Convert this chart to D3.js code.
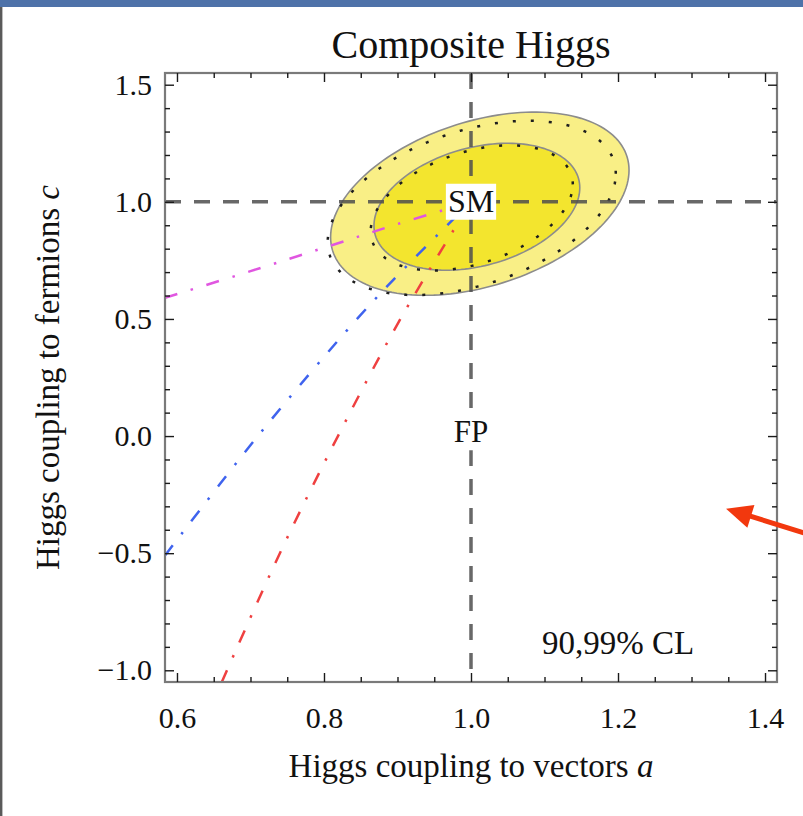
<!DOCTYPE html>
<html>
<head>
<meta charset="utf-8">
<script src="https://cdn.jsdelivr.net/npm/d3@7"></script>
<style>
  html, body { margin: 0; padding: 0; background: #ffffff; }
  svg { display: block; }
</style>
</head>
<body>
<svg id="chart" width="803" height="816"></svg>
<script>
// ---- axis ranges and tick labels ----
const xDomain = [0.5837, 1.4163];
const yDomain = [-1.05, 1.55];
const xTickValues = [0.6, 0.8, 1.0, 1.2, 1.4];
const yTickValues = [-1.0, -0.5, 0.0, 0.5, 1.0, 1.5];
const xMinorTicks = [0.65, 0.7, 0.75, 0.85, 0.9, 0.95, 1.05, 1.1, 1.15, 1.25, 1.3, 1.35];
const yMinorTicks = [-0.9, -0.8, -0.7, -0.6, -0.4, -0.3, -0.2, -0.1, 0.1, 0.2, 0.3, 0.4,
                     0.6, 0.7, 0.8, 0.9, 1.1, 1.2, 1.3, 1.4];

// ---- confidence-level contours (centre, half-extent in a and c, correlation) ----
const contourStyle = ["filled", "filled", "dotted", "dotted"];
const contourLevel = ["99%", "90%", "99%", "90%"];
const contourCenterA = [1.012, 1.008, 1.001, 1.001];
const contourCenterC = [0.992, 0.979, 0.974, 0.974];
const contourHalfA = [0.203, 0.140, 0.196, 0.1375];
const contourHalfC = [0.391, 0.271, 0.372, 0.267];
const contourRho = [0.366, 0.299, 0.393, 0.376];

// ---- model trajectories in the (a, c) plane, ending at the SM point ----
const trajMagentaA = [0.5837, 0.700, 0.804, 0.900, 1.0];
const trajMagentaC = [0.590, 0.704, 0.808, 0.905, 1.0];
const trajBlueA = [0.5837, 0.710, 0.845, 0.920, 1.0];
const trajBlueC = [-0.510, 0.000, 0.500, 0.750, 1.0];
const trajRedA = [0.661, 0.740, 0.819, 0.904, 1.0];
const trajRedC = [-1.05, -0.500, 0.000, 0.500, 1.0];

// ---- reference points ----
const smPoint = [1.0, 1.0];
const fpPoint = [1.0, 0.0];

// ---- layout ----
const W = 803, H = 816;
const plotLeft = 165, plotRight = 777, plotTop = 73, plotBottom = 682;
const serif = "'Liberation Serif', 'Times New Roman', Times, serif";

const svg = d3.select("#chart");

const x = d3.scaleLinear().domain(xDomain).range([plotLeft, plotRight]);
const y = d3.scaleLinear().domain(yDomain).range([plotBottom, plotTop]);

// slide frame decoration
svg.append("rect").attr("x", 0).attr("y", 0).attr("width", W).attr("height", 7)
  .attr("fill", "#4e72a9");
svg.append("line").attr("x1", 1.2).attr("x2", 1.2).attr("y1", 7).attr("y2", H)
  .attr("stroke", "#5a5a5a").attr("stroke-width", 2.4);

svg.append("defs").append("clipPath").attr("id", "plot-clip")
  .append("rect")
  .attr("x", plotLeft).attr("y", plotTop)
  .attr("width", plotRight - plotLeft).attr("height", plotBottom - plotTop);

const plot = svg.append("g").attr("clip-path", "url(#plot-clip)");

// contour outlines from centre, half-extents and correlation
function contourPoints(i) {
  const n = 160, pts = [];
  const r = contourRho[i], s = Math.sqrt(1 - r * r);
  for (let k = 0; k < n; k++) {
    const t = 2 * Math.PI * k / n;
    pts.push([
      contourCenterA[i] + contourHalfA[i] * Math.cos(t),
      contourCenterC[i] + contourHalfC[i] * (r * Math.cos(t) + s * Math.sin(t))
    ]);
  }
  return pts;
}
const closedLine = d3.line().x(d => x(d[0])).y(d => y(d[1])).curve(d3.curveLinearClosed);

const fillColor = { "99%": "#f9ef86", "90%": "#f3e52e" };
contourStyle.forEach((st, i) => {
  if (st !== "filled") return;
  plot.append("path")
    .attr("d", closedLine(contourPoints(i)))
    .attr("fill", fillColor[contourLevel[i]])
    .attr("stroke", "#8c8c8c")
    .attr("stroke-width", 1.6);
});
contourStyle.forEach((st, i) => {
  if (st !== "dotted") return;
  plot.append("path")
    .attr("d", closedLine(contourPoints(i)))
    .attr("fill", "none")
    .attr("stroke", "#1e1e1e")
    .attr("stroke-width", 2.5)
    .attr("stroke-dasharray", "3,15");
});

// dashed reference lines through the SM point
plot.append("line")
  .attr("x1", x(xDomain[0])).attr("x2", x(xDomain[1]))
  .attr("y1", y(smPoint[1])).attr("y2", y(smPoint[1]))
  .attr("stroke", "#4d4d4d").attr("stroke-opacity", 0.85)
  .attr("stroke-width", 3.5).attr("stroke-dasharray", "16,13");
plot.append("line")
  .attr("x1", x(smPoint[0])).attr("x2", x(smPoint[0]))
  .attr("y1", y(yDomain[1])).attr("y2", y(yDomain[0]))
  .attr("stroke", "#4d4d4d").attr("stroke-opacity", 0.85)
  .attr("stroke-width", 3.5).attr("stroke-dasharray", "16,13");

// trajectories
const trajectories = [
  { a: trajMagentaA, c: trajMagentaC, color: "#e056e0" },
  { a: trajBlueA, c: trajBlueC, color: "#3f63ee" },
  { a: trajRedA, c: trajRedC, color: "#ef4040" }
];
const openLine = d3.line().x(d => x(d[0])).y(d => y(d[1])).curve(d3.curveCatmullRom);
trajectories.forEach(tr => {
  plot.append("path")
    .attr("d", openLine(tr.a.map((v, k) => [v, tr.c[k]])))
    .attr("fill", "none")
    .attr("stroke", tr.color)
    .attr("stroke-width", 2.5)
    .attr("stroke-dasharray", "13,14,2.5,14");
});

// boxed point labels
function boxedLabel(txt, px, py, size, dy) {
  const g = svg.append("g");
  const rect = g.append("rect").attr("fill", "#ffffff");
  const t = g.append("text")
    .attr("x", px).attr("y", py).attr("dy", dy)
    .attr("text-anchor", "middle")
    .attr("font-family", serif).attr("font-size", size)
    .attr("fill", "#111111")
    .text(txt);
  const bb = t.node().getBBox();
  rect.attr("x", bb.x - 2).attr("y", bb.y + 1)
    .attr("width", bb.width + 4).attr("height", bb.height);
}
boxedLabel("SM", x(smPoint[0]), y(smPoint[1]), 32, "0.31em");
boxedLabel("FP", x(fpPoint[0]), y(fpPoint[1]), 31, "0.2em");

svg.append("text")
  .attr("x", x(1.2)).attr("y", y(-0.93))
  .attr("text-anchor", "middle")
  .attr("font-family", serif).attr("font-size", 33)
  .attr("fill", "#111111")
  .text("90,99% CL");

// frame
svg.append("rect")
  .attr("x", plotLeft).attr("y", plotTop)
  .attr("width", plotRight - plotLeft).attr("height", plotBottom - plotTop)
  .attr("fill", "none").attr("stroke", "#7a7a7a").attr("stroke-width", 2.2);

// axes: major ticks with labels, minor ticks, mirrored ticks on top/right
const fmt = d3.format(".1f");
function styleAxis(g) {
  g.select(".domain").remove();
  g.selectAll(".tick line").attr("stroke", "#1a1a1a").attr("stroke-width", 1.4);
  g.selectAll(".tick text").attr("font-family", serif).attr("font-size", 30).attr("fill", "#111111");
}
svg.append("g").attr("transform", `translate(0,${plotBottom})`)
  .call(d3.axisBottom(x).tickValues(xTickValues).tickFormat(fmt).tickSizeInner(-9).tickSizeOuter(0).tickPadding(25))
  .call(styleAxis);
svg.append("g").attr("transform", `translate(0,${plotBottom})`)
  .call(d3.axisBottom(x).tickValues(xMinorTicks).tickFormat("").tickSizeInner(-5).tickSizeOuter(0))
  .call(styleAxis);
svg.append("g").attr("transform", `translate(0,${plotTop})`)
  .call(d3.axisTop(x).tickValues(xTickValues).tickFormat("").tickSizeInner(-9).tickSizeOuter(0))
  .call(styleAxis);
svg.append("g").attr("transform", `translate(0,${plotTop})`)
  .call(d3.axisTop(x).tickValues(xMinorTicks).tickFormat("").tickSizeInner(-5).tickSizeOuter(0))
  .call(styleAxis);
svg.append("g").attr("transform", `translate(${plotLeft},0)`)
  .call(d3.axisLeft(y).tickValues(yTickValues).tickFormat(fmt).tickSizeInner(-9).tickSizeOuter(0).tickPadding(13))
  .call(styleAxis);
svg.append("g").attr("transform", `translate(${plotLeft},0)`)
  .call(d3.axisLeft(y).tickValues(yMinorTicks).tickFormat("").tickSizeInner(-5).tickSizeOuter(0))
  .call(styleAxis);
svg.append("g").attr("transform", `translate(${plotRight},0)`)
  .call(d3.axisRight(y).tickValues(yTickValues).tickFormat("").tickSizeInner(-9).tickSizeOuter(0))
  .call(styleAxis);
svg.append("g").attr("transform", `translate(${plotRight},0)`)
  .call(d3.axisRight(y).tickValues(yMinorTicks).tickFormat("").tickSizeInner(-5).tickSizeOuter(0))
  .call(styleAxis);

// title and axis titles
svg.append("text")
  .attr("x", (plotLeft + plotRight) / 2).attr("y", 58)
  .attr("text-anchor", "middle")
  .attr("font-family", serif).attr("font-size", 40).attr("fill", "#111111")
  .text("Composite Higgs");

const xt = svg.append("text")
  .attr("x", (plotLeft + plotRight) / 2).attr("y", 777)
  .attr("text-anchor", "middle")
  .attr("font-family", serif).attr("font-size", 33).attr("fill", "#111111");
xt.append("tspan").text("Higgs coupling to vectors ");
xt.append("tspan").attr("font-style", "italic").text("a");

const yt = svg.append("text")
  .attr("transform", `translate(59,${(plotTop + plotBottom) / 2}) rotate(-90)`)
  .attr("text-anchor", "middle")
  .attr("font-family", serif).attr("font-size", 33).attr("fill", "#111111");
yt.append("tspan").text("Higgs coupling to fermions ");
yt.append("tspan").attr("font-style", "italic").text("c");

// pointer arrow
const tip = [x(1.347), y(-0.31)];
const ang = 17.3 * Math.PI / 180;
const ux = Math.cos(ang), uy = Math.sin(ang);
const headLen = 26, headHalf = 12;
const base = [tip[0] + ux * headLen, tip[1] + uy * headLen];
svg.append("line")
  .attr("x1", base[0] - ux * 4).attr("y1", base[1] - uy * 4)
  .attr("x2", tip[0] + ux * 140).attr("y2", tip[1] + uy * 140)
  .attr("stroke", "#f2380e").attr("stroke-width", 5);
svg.append("path")
  .attr("d", `M${tip[0]},${tip[1]} L${base[0] - uy * headHalf},${base[1] + ux * headHalf} L${base[0] + uy * headHalf},${base[1] - ux * headHalf} Z`)
  .attr("fill", "#f2380e");
</script>
</body>
</html>
